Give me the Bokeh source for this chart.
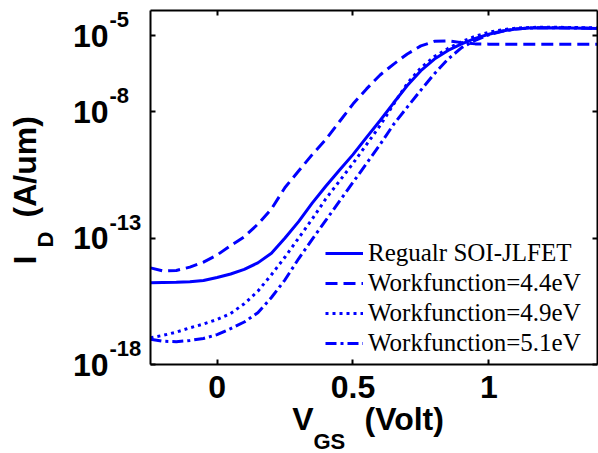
import math
from bokeh.plotting import figure
from bokeh.models import (Range1d, FixedTicker, LinearAxis, LogAxis, Label, LabelSet,
                          ColumnDataSource, Legend, LegendItem, CustomJSTickFormatter)
from bokeh.core.properties import value
from bokeh.embed import file_html
from bokeh.resources import INLINE

# ---------------- data ----------------
vgs = [-0.245, -0.2, -0.15, -0.1, -0.05, 0.0, 0.05, 0.1, 0.15, 0.2, 0.25, 0.3,
       0.35, 0.4, 0.45, 0.5, 0.55, 0.6, 0.65, 0.7, 0.75, 0.8, 0.85, 0.9, 0.95,
       1.0, 1.05, 1.1, 1.15, 1.2, 1.3, 1.4]

# log10 of drain current (A/um)
log_id_regular = [-14.77, -14.76, -14.75, -14.73, -14.68, -14.56, -14.42, -14.24,
                  -13.98, -13.6, -13.0, -12.35, -11.62, -10.95, -10.32, -9.7,
                  -9.02, -8.35, -7.65, -6.97, -6.38, -5.92, -5.58, -5.32, -5.1,
                  -4.94, -4.81, -4.73, -4.69, -4.68, -4.69, -4.71]
log_id_wf44 = [-14.18, -14.3, -14.28, -14.15, -13.95, -13.67, -13.3, -12.95,
               -12.45, -11.85, -11.0, -10.35, -9.7, -9.1, -8.4, -7.7,
               -7.1, -6.55, -6.12, -5.72, -5.4, -5.22, -5.2, -5.27, -5.32,
               -5.33, -5.33, -5.33, -5.33, -5.33, -5.33, -5.33]
log_id_wf49 = [-16.94, -16.85, -16.72, -16.55, -16.4, -16.22, -15.98, -15.6,
               -15.1, -14.45, -13.75, -13.0, -12.25, -11.45, -10.75, -10.05,
               -9.3, -8.55, -7.7, -6.88, -6.27, -5.82, -5.5, -5.23, -5.02,
               -4.86, -4.76, -4.7, -4.67, -4.66, -4.67, -4.69]
log_id_wf51 = [-17.0, -17.08, -17.1, -17.05, -16.97, -16.82, -16.58, -16.32,
               -15.95, -15.35, -14.65, -13.82, -13.05, -12.3, -11.55, -10.8,
               -10.05, -9.3, -8.5, -7.82, -7.15, -6.5, -5.92, -5.47, -5.18,
               -4.96, -4.82, -4.73, -4.69, -4.68, -4.69, -4.7]

series_names = ["Regualr SOI-JLFET", "Workfunction=4.4eV",
                "Workfunction=4.9eV", "Workfunction=5.1eV"]
series_logs = [log_id_regular, log_id_wf44, log_id_wf49, log_id_wf51]
series_dash = ["solid", "12 6", "3 4", "11 4 3 4"]

x_limits = [-0.245, 1.4]
y_limit_exps = [-18, -4]
x_ticks = [0, 0.5, 1]
y_ticks = [1e-18, 1e-13, 1e-8, 1e-5]
y_tick_base = "10"
y_tick_exponents = ["-18", "-13", "-8", "-5"]

x_label_main = "V"
x_label_sub = "GS"
x_label_rest = "(Volt)"
y_label_main = "I"
y_label_sub = "D"
y_label_rest = "(A/um)"

BLUE = "#0000FF"
SANS = "Liberation Sans"
SERIF = "Liberation Serif"

# ---------------- layout (pixels) ----------------
W, H = 598, 453
PL, PR, PT, PB = 150, 597, 10, 364   # plot box inside the canvas

# The frame covers the whole canvas; the plot box is drawn with fixed axes.
ppu = (PR - PL) / (x_limits[1] - x_limits[0])
ppd = (PB - PT) / (y_limit_exps[1] - y_limit_exps[0])
x_range = Range1d(x_limits[0] - PL / ppu, x_limits[1] + (W - PR) / ppu)
y_range = Range1d(10 ** (y_limit_exps[0] - (H - PB) / ppd),
                  10 ** (y_limit_exps[1] + PT / ppd))
y_lo, y_hi = 10.0 ** y_limit_exps[0], 10.0 ** y_limit_exps[1]

p = figure(width=W, height=H, output_backend="svg", toolbar_location=None,
           y_axis_type="log", x_range=x_range, y_range=y_range,
           x_axis_location=None, y_axis_location=None, min_border=0)
p.title.visible = False
p.xgrid.visible = False
p.ygrid.visible = False
p.outline_line_color = None
p.background_fill_color = "white"
p.border_fill_color = "white"

axis_style = dict(major_tick_in=5, major_tick_out=0, minor_tick_line_color=None,
                  axis_line_width=2, axis_line_color="black",
                  major_tick_line_width=2, major_tick_line_color="black",
                  major_label_text_font=SANS, major_label_text_font_style="bold",
                  major_label_text_font_size="32px",
                  major_label_text_color="black")

bottom = LinearAxis(fixed_location=y_lo, bounds=tuple(x_limits),
                    ticker=FixedTicker(ticks=x_ticks, minor_ticks=[]),
                    formatter=CustomJSTickFormatter(code="return tick.toString();"),
                    major_label_standoff=11, **axis_style)
p.add_layout(bottom, "below")

left = LogAxis(fixed_location=x_limits[0], bounds=(y_lo, y_hi),
               ticker=FixedTicker(ticks=y_ticks, minor_ticks=[]),
               formatter=CustomJSTickFormatter(code="return '%s';" % y_tick_base),
               major_label_standoff=42, **axis_style)
p.add_layout(left, "left")

blank = dict(major_label_text_font_size="1px", major_label_standoff=0)
top = LinearAxis(fixed_location=y_hi, bounds=tuple(x_limits),
                 ticker=FixedTicker(ticks=x_ticks, minor_ticks=[]),
                 formatter=CustomJSTickFormatter(code="return '';"),
                 **{**axis_style, **blank})
p.add_layout(top, "above")
right = LogAxis(fixed_location=x_limits[1], bounds=(y_lo, y_hi),
                ticker=FixedTicker(ticks=y_ticks, minor_ticks=[]),
                formatter=CustomJSTickFormatter(code="return '';"),
                **{**axis_style, **blank})
p.add_layout(right, "right")

# curves
items = []
for name, logs, dash in zip(series_names, series_logs, series_dash):
    src = ColumnDataSource(dict(x=vgs, y=[10 ** v for v in logs]))
    r = p.line("x", "y", source=src, line_color=BLUE, line_width=3,
               line_dash=dash)
    items.append(LegendItem(label=name, renderers=[r]))

legend = Legend(items=items, location=(325, H - 358), padding=0, margin=0,
                spacing=0, glyph_width=38, glyph_height=30, label_height=30,
                label_standoff=5, label_text_font=SERIF,
                label_text_font_size="25px", label_text_color="black",
                border_line_color=None, background_fill_alpha=0)
p.add_layout(legend, "center")

# exponents of the y tick labels
exp_src = ColumnDataSource(dict(y=y_ticks, text=y_tick_exponents))
p.add_layout(LabelSet(x=109, y="y", text="text", source=exp_src,
                      x_units="screen", y_units="data", y_offset=16,
                      text_font=value(SANS), text_font_style="bold",
                      text_font_size="22px", text_align="left",
                      text_baseline="middle", text_color="black"))

# x axis title: V_GS (Volt)   (screen y measured from the canvas bottom)
common = dict(x_units="screen", y_units="screen", text_font=SANS,
              text_font_style="bold", text_color="black",
              text_baseline="middle")
p.add_layout(Label(x=313, y=H - 418, text=x_label_main, text_align="right",
                   text_font_size="32px", **common))
p.add_layout(Label(x=313, y=H - 441, text=x_label_sub, text_align="left",
                   text_font_size="22px", **common))
p.add_layout(Label(x=364, y=H - 418, text=x_label_rest, text_align="left",
                   text_font_size="32px", **common))

# y axis title: I_D (A/um), rotated
rot = math.pi / 2
p.add_layout(Label(x=24, y=H - 264, text=y_label_main, angle=rot, text_align="left",
                   text_font_size="32px", **common))
p.add_layout(Label(x=45, y=H - 247, text=y_label_sub, angle=rot, text_align="left",
                   text_font_size="22px", **common))
p.add_layout(Label(x=24, y=H - 217, text=y_label_rest, angle=rot, text_align="left",
                   text_font_size="32px", **common))

open("out.html", "w").write(file_html(p, INLINE))
